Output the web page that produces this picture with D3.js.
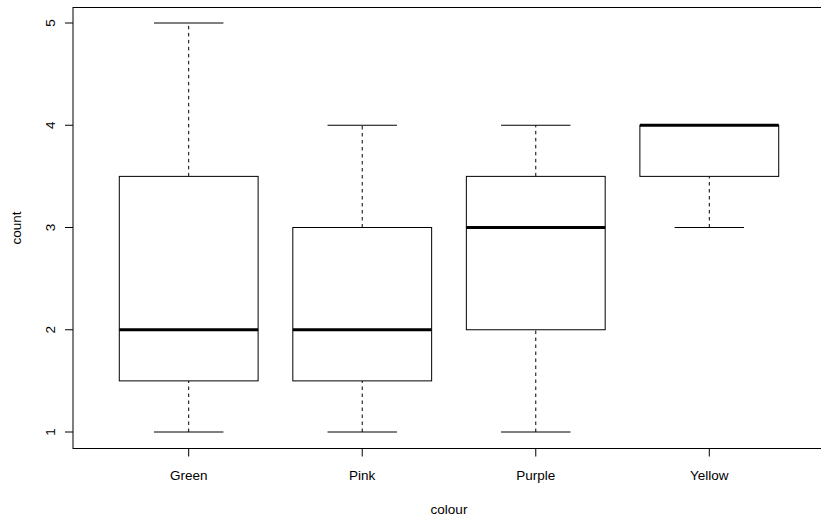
<!DOCTYPE html>
<html>
<head>
<meta charset="utf-8">
<script src="https://cdn.jsdelivr.net/npm/d3@7"></script>
<style>
  body { margin: 0; background: #fff; }
  svg text { font-family: "Liberation Sans", Arial, sans-serif; font-size: 13.5px; fill: #000; }
</style>
</head>
<body>
<svg id="chart" width="821" height="517"></svg>
<script>
// box statistics per colour: lower whisker, lower hinge, median, upper hinge, upper whisker
const categories = ["Green", "Pink", "Purple", "Yellow"];
const lowWhisker = [1, 1, 1, 3];
const lowHinge = [1.5, 1.5, 2, 3.5];
const medians = [2, 2, 3, 4];
const highHinge = [3.5, 3, 3.5, 4];
const highWhisker = [5, 4, 4, 4];
const yTicks = [1, 2, 3, 4, 5];

const svg = d3.select("#chart");

// plot frame (right edge runs past the window, as in the picture)
const frame = { left: 73, right: 826, top: 7.5, bottom: 448.5 };

const x = d3.scaleLinear().domain([1, 4]).range([188.7, 709.3]);
const y = d3.scaleLinear().domain([1, 5]).range([432, 23]);

const boxHalf = 0.4 * (x(2) - x(1));
const capHalf = boxHalf / 2;

const boxes = categories.map((c, i) => ({
  name: c, pos: i + 1,
  lw: lowWhisker[i], lh: lowHinge[i], med: medians[i], hh: highHinge[i], hw: highWhisker[i]
}));

const g = svg.append("g");

// whiskers
g.selectAll(".whisk-lo").data(boxes).enter().append("line")
  .attr("x1", d => x(d.pos)).attr("x2", d => x(d.pos))
  .attr("y1", d => y(d.lw)).attr("y2", d => y(d.lh))
  .attr("stroke", "#000").attr("stroke-width", 1).attr("stroke-dasharray", "3.5,3.5");
g.selectAll(".whisk-hi").data(boxes).enter().append("line")
  .attr("x1", d => x(d.pos)).attr("x2", d => x(d.pos))
  .attr("y1", d => y(d.hh)).attr("y2", d => y(d.hw))
  .attr("stroke", "#000").attr("stroke-width", 1).attr("stroke-dasharray", "3.5,3.5");

// caps
["lw", "hw"].forEach(k => {
  g.selectAll(".cap-" + k).data(boxes).enter().append("line")
    .attr("x1", d => x(d.pos) - capHalf).attr("x2", d => x(d.pos) + capHalf)
    .attr("y1", d => y(d[k])).attr("y2", d => y(d[k]))
    .attr("stroke", "#000").attr("stroke-width", 1);
});

// boxes
g.selectAll(".box").data(boxes).enter().append("rect")
  .attr("x", d => x(d.pos) - boxHalf)
  .attr("width", 2 * boxHalf)
  .attr("y", d => y(d.hh))
  .attr("height", d => y(d.lh) - y(d.hh))
  .attr("fill", "#fff").attr("stroke", "#000").attr("stroke-width", 1);

// medians
g.selectAll(".med").data(boxes).enter().append("line")
  .attr("x1", d => x(d.pos) - boxHalf).attr("x2", d => x(d.pos) + boxHalf)
  .attr("y1", d => y(d.med)).attr("y2", d => y(d.med))
  .attr("stroke", "#000").attr("stroke-width", 3);

// frame
svg.append("rect")
  .attr("x", frame.left).attr("y", frame.top)
  .attr("width", frame.right - frame.left).attr("height", frame.bottom - frame.top)
  .attr("fill", "none").attr("stroke", "#000").attr("stroke-width", 1);

// y axis ticks and labels
const yAxis = svg.append("g");
yAxis.selectAll("line").data(yTicks).enter().append("line")
  .attr("x1", frame.left - 8).attr("x2", frame.left)
  .attr("y1", d => y(d)).attr("y2", d => y(d))
  .attr("stroke", "#000");
yAxis.selectAll("text").data(yTicks).enter().append("text")
  .attr("transform", d => `translate(55,${y(d)}) rotate(-90)`)
  .attr("text-anchor", "middle")
  .text(d => d);

// x axis ticks and labels
const xAxis = svg.append("g");
xAxis.selectAll("line").data(boxes).enter().append("line")
  .attr("x1", d => x(d.pos)).attr("x2", d => x(d.pos))
  .attr("y1", frame.bottom).attr("y2", frame.bottom + 8)
  .attr("stroke", "#000");
xAxis.selectAll("text").data(boxes).enter().append("text")
  .attr("x", d => x(d.pos)).attr("y", 480)
  .attr("text-anchor", "middle")
  .text(d => d.name);

// axis titles
svg.append("text")
  .attr("x", 449).attr("y", 514)
  .attr("text-anchor", "middle")
  .text("colour");
svg.append("text")
  .attr("transform", `translate(21,${(frame.top + frame.bottom) / 2}) rotate(-90)`)
  .attr("text-anchor", "middle")
  .text("count");
</script>
</body>
</html>
